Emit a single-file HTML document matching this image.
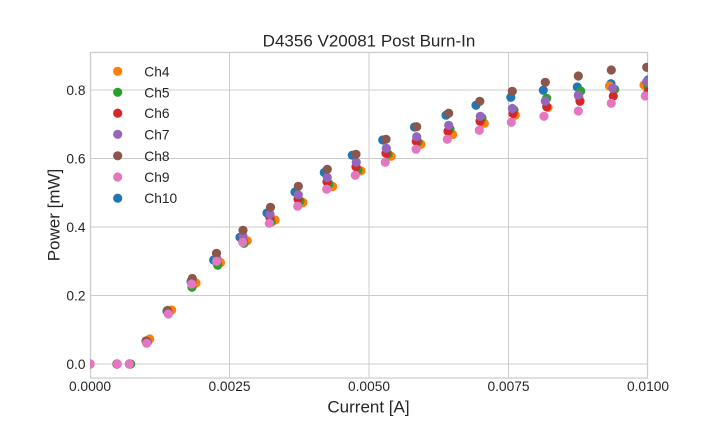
<!DOCTYPE html>
<html><head><meta charset="utf-8"><style>
html,body{margin:0;padding:0;background:#fff;}
svg{display:block;font-family:"Liberation Sans",Arial,sans-serif;}
</style></head><body>
<svg width="720" height="432" viewBox="0 0 720 432" xmlns="http://www.w3.org/2000/svg">
<defs><clipPath id="ax"><rect x="90" y="52" width="558" height="326"/></clipPath></defs>
<rect width="720" height="432" fill="#fff"/>
<g stroke="#cccccc" stroke-width="1">
<line x1="229.5" y1="52" x2="229.5" y2="378"/>
<line x1="369" y1="52" x2="369" y2="378"/>
<line x1="508.5" y1="52" x2="508.5" y2="378"/>
<line x1="90" y1="364" x2="648" y2="364"/>
<line x1="90" y1="295.5" x2="648" y2="295.5"/>
<line x1="90" y1="227" x2="648" y2="227"/>
<line x1="90" y1="158.5" x2="648" y2="158.5"/>
<line x1="90" y1="90" x2="648" y2="90"/>
</g>
<rect x="90.5" y="52.5" width="557" height="325.5" fill="none" stroke="#cccccc" stroke-width="1.25"/>
<g clip-path="url(#ax)">
<g fill="#1f77b4">
<circle cx="90" cy="364" r="4.6"/><circle cx="117" cy="364" r="4.6"/><circle cx="129.5" cy="364" r="4.6"/><circle cx="146.5" cy="342" r="4.6"/><circle cx="167" cy="311" r="4.6"/><circle cx="191" cy="281.5" r="4.6"/><circle cx="213.7" cy="260" r="4.6"/><circle cx="240" cy="237.3" r="4.6"/><circle cx="267" cy="213" r="4.6"/><circle cx="295" cy="192" r="4.6"/><circle cx="324.3" cy="172.5" r="4.6"/><circle cx="352.3" cy="155.2" r="4.6"/><circle cx="382.7" cy="140" r="4.6"/><circle cx="414.5" cy="127" r="4.6"/><circle cx="446" cy="115.2" r="4.6"/><circle cx="476" cy="105.3" r="4.6"/><circle cx="510.8" cy="97.3" r="4.6"/><circle cx="543.3" cy="90.3" r="4.6"/><circle cx="577.3" cy="87" r="4.6"/><circle cx="611" cy="83.7" r="4.6"/><circle cx="648" cy="80" r="4.6"/>
</g>
<g fill="#ff7f0e">
<circle cx="90" cy="364" r="4.6"/><circle cx="117" cy="364" r="4.6"/><circle cx="129.5" cy="364" r="4.6"/><circle cx="149.7" cy="339" r="4.6"/><circle cx="171.7" cy="310" r="4.6"/><circle cx="196" cy="283" r="4.6"/><circle cx="220.5" cy="262.5" r="4.6"/><circle cx="247.3" cy="240.7" r="4.6"/><circle cx="275.2" cy="220" r="4.6"/><circle cx="303" cy="202.5" r="4.6"/><circle cx="332.7" cy="186.5" r="4.6"/><circle cx="361" cy="170.8" r="4.6"/><circle cx="391" cy="156.3" r="4.6"/><circle cx="421" cy="144.3" r="4.6"/><circle cx="452.7" cy="134.5" r="4.6"/><circle cx="484.3" cy="123.3" r="4.6"/><circle cx="515.3" cy="115.2" r="4.6"/><circle cx="548" cy="107.5" r="4.6"/><circle cx="579" cy="97" r="4.6"/><circle cx="609.5" cy="86" r="4.6"/><circle cx="644" cy="85" r="4.6"/>
</g>
<g fill="#2ca02c">
<circle cx="90" cy="364" r="4.6"/><circle cx="117" cy="364" r="4.6"/><circle cx="130.7" cy="364" r="4.6"/><circle cx="147.5" cy="342" r="4.6"/><circle cx="168" cy="312" r="4.6"/><circle cx="192" cy="287.3" r="4.6"/><circle cx="217.7" cy="265.3" r="4.6"/><circle cx="244" cy="243.3" r="4.6"/><circle cx="271.3" cy="222" r="4.6"/><circle cx="300" cy="201" r="4.6"/><circle cx="329" cy="184" r="4.6"/><circle cx="358" cy="170" r="4.6"/><circle cx="388" cy="154" r="4.6"/><circle cx="418" cy="142" r="4.6"/><circle cx="450" cy="129" r="4.6"/><circle cx="482" cy="118" r="4.6"/><circle cx="514" cy="110" r="4.6"/><circle cx="546.7" cy="98.3" r="4.6"/><circle cx="580.7" cy="91" r="4.6"/><circle cx="614.7" cy="89.3" r="4.6"/><circle cx="648" cy="86" r="4.6"/>
</g>
<g fill="#d62728">
<circle cx="90" cy="364" r="4.6"/><circle cx="117" cy="364" r="4.6"/><circle cx="129.5" cy="364" r="4.6"/><circle cx="147" cy="342" r="4.6"/><circle cx="168" cy="312" r="4.6"/><circle cx="192" cy="282" r="4.6"/><circle cx="217" cy="261" r="4.6"/><circle cx="243" cy="240" r="4.6"/><circle cx="270" cy="217.5" r="4.6"/><circle cx="298" cy="199" r="4.6"/><circle cx="327" cy="181.7" r="4.6"/><circle cx="356" cy="166.7" r="4.6"/><circle cx="386" cy="153.3" r="4.6"/><circle cx="416.3" cy="141.2" r="4.6"/><circle cx="448" cy="131.2" r="4.6"/><circle cx="480" cy="121.3" r="4.6"/><circle cx="513" cy="113.5" r="4.6"/><circle cx="546.7" cy="106.7" r="4.6"/><circle cx="580" cy="101.3" r="4.6"/><circle cx="613.3" cy="96" r="4.6"/><circle cx="648" cy="92" r="4.6"/>
</g>
<g fill="#9467bd">
<circle cx="90" cy="364" r="4.6"/><circle cx="117" cy="364" r="4.6"/><circle cx="129.5" cy="364" r="4.6"/><circle cx="147" cy="342" r="4.6"/><circle cx="167.5" cy="311" r="4.6"/><circle cx="192" cy="281" r="4.6"/><circle cx="217" cy="259" r="4.6"/><circle cx="243" cy="236.3" r="4.6"/><circle cx="270" cy="214.3" r="4.6"/><circle cx="298.3" cy="194.8" r="4.6"/><circle cx="327.3" cy="177.5" r="4.6"/><circle cx="356.3" cy="162.3" r="4.6"/><circle cx="386.3" cy="148.3" r="4.6"/><circle cx="416.7" cy="136.7" r="4.6"/><circle cx="448.7" cy="125.3" r="4.6"/><circle cx="480.3" cy="116.3" r="4.6"/><circle cx="512.3" cy="108.5" r="4.6"/><circle cx="545.3" cy="101" r="4.6"/><circle cx="578.3" cy="95" r="4.6"/><circle cx="612.7" cy="88.3" r="4.6"/><circle cx="646.7" cy="81.7" r="4.6"/>
</g>
<g fill="#8c564b">
<circle cx="90" cy="364" r="4.6"/><circle cx="117" cy="364" r="4.6"/><circle cx="129.5" cy="364" r="4.6"/><circle cx="146" cy="341" r="4.6"/><circle cx="167.5" cy="310.5" r="4.6"/><circle cx="192.3" cy="278.5" r="4.6"/><circle cx="216.5" cy="253.3" r="4.6"/><circle cx="243" cy="230.3" r="4.6"/><circle cx="270.5" cy="207.3" r="4.6"/><circle cx="298.3" cy="186.3" r="4.6"/><circle cx="327.3" cy="169.3" r="4.6"/><circle cx="356" cy="154.3" r="4.6"/><circle cx="386" cy="139.3" r="4.6"/><circle cx="416.7" cy="126.7" r="4.6"/><circle cx="448.7" cy="113.2" r="4.6"/><circle cx="479.8" cy="101.3" r="4.6"/><circle cx="512.3" cy="91.3" r="4.6"/><circle cx="545.3" cy="82.3" r="4.6"/><circle cx="578.3" cy="76" r="4.6"/><circle cx="611.3" cy="70" r="4.6"/><circle cx="646.7" cy="67.3" r="4.6"/>
</g>
<g fill="#e377c2">
<circle cx="90" cy="364" r="4.6"/><circle cx="117.3" cy="364" r="4.6"/><circle cx="129.3" cy="364" r="4.6"/><circle cx="146.7" cy="343.3" r="4.6"/><circle cx="168.3" cy="314" r="4.6"/><circle cx="191.7" cy="284" r="4.6"/><circle cx="216.7" cy="261.3" r="4.6"/><circle cx="242.7" cy="242.3" r="4.6"/><circle cx="269.3" cy="223.3" r="4.6"/><circle cx="297.7" cy="206.2" r="4.6"/><circle cx="326.7" cy="189.2" r="4.6"/><circle cx="355.3" cy="175.3" r="4.6"/><circle cx="385.3" cy="162.3" r="4.6"/><circle cx="416" cy="149.2" r="4.6"/><circle cx="447.3" cy="139.3" r="4.6"/><circle cx="479.3" cy="130.3" r="4.6"/><circle cx="511.3" cy="122.3" r="4.6"/><circle cx="544" cy="116.3" r="4.6"/><circle cx="578.3" cy="111" r="4.6"/><circle cx="611.3" cy="103.3" r="4.6"/><circle cx="645.3" cy="96" r="4.6"/>
</g>
</g>
<g fill="#262626" font-size="13.75">
<text x="90" y="391" text-anchor="middle">0.0000</text>
<text x="229.5" y="391" text-anchor="middle">0.0025</text>
<text x="369" y="391" text-anchor="middle">0.0050</text>
<text x="508.5" y="391" text-anchor="middle">0.0075</text>
<text x="648" y="391" text-anchor="middle">0.0100</text>
<text x="85.5" y="368.8" text-anchor="end">0.0</text>
<text x="85.5" y="300.3" text-anchor="end">0.2</text>
<text x="85.5" y="231.8" text-anchor="end">0.4</text>
<text x="85.5" y="163.3" text-anchor="end">0.6</text>
<text x="85.5" y="94.8" text-anchor="end">0.8</text>
</g>
<g fill="#262626" font-size="17">
<text x="369" y="46.7" text-anchor="middle">D4356 V20081 Post Burn-In</text>
<text x="368.5" y="412.3" text-anchor="middle">Current [A]</text>
<text x="0" y="0" text-anchor="middle" transform="translate(59.3,215) rotate(-90)">Power [mW]</text>
</g>
<g font-size="13.75" fill="#262626">
<circle cx="117.7" cy="71.3" r="4.6" fill="#ff7f0e"/><text x="144.3" y="76.3">Ch4</text>
<circle cx="117.7" cy="92.3" r="4.6" fill="#2ca02c"/><text x="144.3" y="97.3">Ch5</text>
<circle cx="117.7" cy="113.2" r="4.6" fill="#d62728"/><text x="144.3" y="118.2">Ch6</text>
<circle cx="117.7" cy="134.3" r="4.6" fill="#9467bd"/><text x="144.3" y="139.3">Ch7</text>
<circle cx="117.7" cy="155.8" r="4.6" fill="#8c564b"/><text x="144.3" y="160.8">Ch8</text>
<circle cx="117.7" cy="177" r="4.6" fill="#e377c2"/><text x="144.3" y="182">Ch9</text>
<circle cx="117.7" cy="198.2" r="4.6" fill="#1f77b4"/><text x="144.3" y="203.2">Ch10</text>
</g>
</svg>
</body></html>
